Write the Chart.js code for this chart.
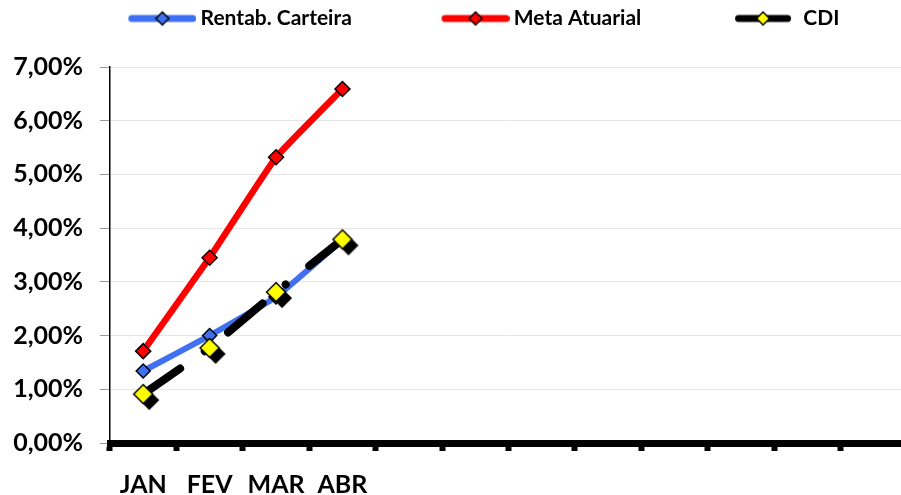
<!DOCTYPE html>
<html><head><meta charset="utf-8">
<script src="https://cdn.jsdelivr.net/npm/chart.js@4"></script>
<style>html,body{margin:0;padding:0;overflow:hidden;background:#fff}
#wrap{width:928px;height:495px;position:relative;left:-21px}</style></head>
<body><div id="wrap"><canvas id="c"></canvas></div>
<script>
const months = ['JAN','FEV','MAR','ABR','','','','','','','',''];
const seriesNames = ['Rentab. Carteira','Meta Atuarial','CDI'];
const rentabCarteira = [1.34, 2.00, 2.72, 3.78];
const metaAtuarial = [1.71, 3.45, 5.32, 6.59];
const cdi = [0.91, 1.77, 2.81, 3.79];
const yMin = 0, yMax = 7, yStep = 1;

const BLUE = '#3f70f2', RED = '#ff0000', BLACK = '#000000', YELLOW = '#ffff00';
const FONT = 'Lato';

function diamond(ctx, cx, cy, r, fill, stroke, lw) {
  ctx.beginPath();
  ctx.moveTo(cx, cy - r); ctx.lineTo(cx + r, cy); ctx.lineTo(cx, cy + r); ctx.lineTo(cx - r, cy);
  ctx.closePath();
  ctx.fillStyle = fill; ctx.fill();
  if (stroke) { ctx.strokeStyle = stroke; ctx.lineWidth = lw; ctx.stroke(); }
}

// CDI marker: yellow diamond with black drop shadow
const cdiPoint = document.createElement('canvas');
cdiPoint.width = 40; cdiPoint.height = 40;
(function(){ const g = cdiPoint.getContext('2d');
  diamond(g, 26, 26, 10, BLACK, null, 0);
  diamond(g, 20, 20, 9.5, YELLOW, BLACK, 1.5);
})();

// legend icons
const LEG_PW = 143.5, LEG_IW = 156, LEG_P = 8;
function legendIcon(color, fill, len, endGap) {
  const c = document.createElement('canvas');
  c.width = LEG_IW; c.height = 20;
  const g = c.getContext('2d');
  const x1 = LEG_IW - endGap - 3.5, x0 = LEG_IW - endGap - len + 3.5;
  g.strokeStyle = color; g.lineWidth = 7; g.lineCap = 'round';
  g.beginPath(); g.moveTo(x0, 10); g.lineTo(x1, 10); g.stroke();
  diamond(g, (x0 + x1) / 2, 10, 6.5, fill, BLACK, 1.5);
  return c;
}
const legendIcons = [legendIcon(BLUE, BLUE, 68, 0), legendIcon(RED, RED, 68, 0), legendIcon(BLACK, YELLOW, 56, 8)];

const fmt = v => v.toFixed(2).replace('.', ',') + '%';

new Chart(document.getElementById('c'), {
  type: 'line',
  data: {
    labels: months,
    datasets: [
      { label: seriesNames[0], data: rentabCarteira, borderColor: BLUE, backgroundColor: BLUE,
        borderWidth: 6, pointStyle: 'rectRot', pointRadius: 7, pointBackgroundColor: BLUE,
        pointBorderColor: BLACK, pointBorderWidth: 1.5, tension: 0.1, order: 2 },
      { label: seriesNames[1], data: metaAtuarial, borderColor: RED, backgroundColor: RED,
        borderWidth: 6.5, pointStyle: 'rectRot', pointRadius: 7.5, pointBackgroundColor: RED,
        pointBorderColor: BLACK, pointBorderWidth: 1.5, tension: 0.1, order: 1 },
      { label: seriesNames[2], data: cdi, borderColor: BLACK, backgroundColor: BLACK,
        borderWidth: 8, borderDash: [45, 30, 0.01, 30], borderCapStyle: 'round',
        pointStyle: cdiPoint, pointRadius: 10, tension: 0, order: 0 }
    ]
  },
  options: {
    responsive: true, maintainAspectRatio: false, animation: false, devicePixelRatio: 1,
    layout: { padding: 0, autoPadding: false },
    font: { family: FONT },
    plugins: {
      tooltip: { enabled: false },
      legend: {
        position: 'top', align: 'center', weight: 3000,
        labels: {
          usePointStyle: true, pointStyleWidth: LEG_PW, padding: LEG_P,
          font: { family: FONT, size: 21, weight: 'bold' }, color: '#000',
          generateLabels: (chart) => chart.data.datasets.map((ds, i) => ({
            text: ds.label, fillStyle: ds.borderColor, strokeStyle: ds.borderColor,
            lineWidth: 0, pointStyle: legendIcons[i], hidden: false, datasetIndex: i, fontColor: '#000'
          }))
        }
      },
      title: { display: true, text: '', padding: 0, font: { size: 28, lineHeight: 1 } }
    },
    scales: {
      x: {
        type: 'category', offset: true,
        grid: { display: true, offset: true, drawOnChartArea: false, drawTicks: true,
                tickLength: 8, tickWidth: 6, tickColor: BLACK },
        border: { display: true, color: BLACK, width: 7 },
        ticks: { autoSkip: false, maxRotation: 0, padding: 19, color: '#000',
                 font: { family: FONT, size: 25, weight: 'bold' } },
        afterFit: s => { s.height = 52; }
      },
      y: {
        min: yMin, max: yMax,
        grid: { color: '#e6e6e6', lineWidth: 1, drawTicks: true, tickLength: 10, tickColor: '#999' },
        border: { display: true, color: BLACK, width: 1.5 },
        ticks: { stepSize: yStep, padding: 17, color: '#000', callback: v => fmt(v),
                 font: { family: FONT, size: 25, weight: 'bold' } },
        afterFit: s => { s.width = 131; }
      }
    }
  }
});
</script></body></html>
